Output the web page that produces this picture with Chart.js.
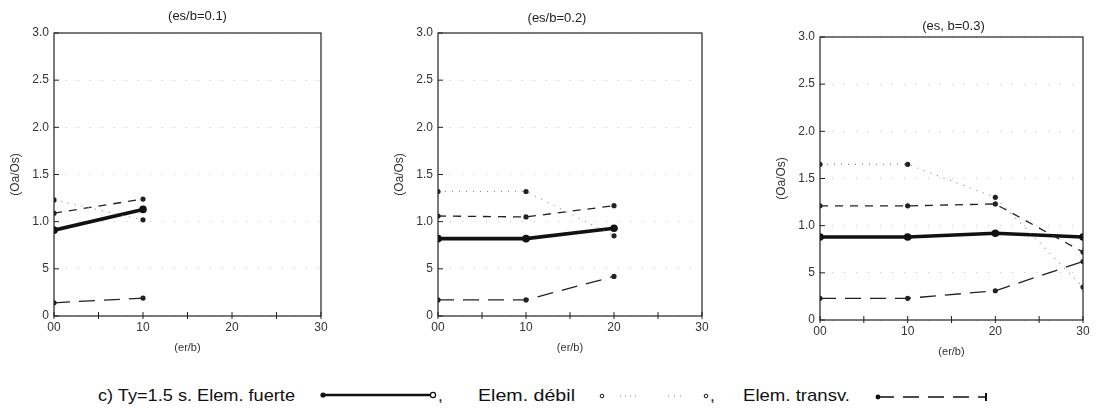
<!DOCTYPE html>
<html>
<head>
<meta charset="utf-8">
<script src="https://cdn.jsdelivr.net/npm/chart.js@4"></script>
<style>
  body { margin: 0; width: 1097px; height: 411px; background: #fff; overflow: hidden; position: relative; font-family: "Liberation Sans", Arial, sans-serif; }
  canvas { position: absolute; }
  #leyenda { position: absolute; left: 0; top: 378px; }
</style>
</head>
<body>
<canvas id="c1" width="341" height="360" style="left:0px;top:0px"></canvas>
<canvas id="c2" width="338" height="360" style="left:384px;top:0px"></canvas>
<canvas id="c3" width="331" height="360" style="left:766px;top:4px"></canvas>

<svg id="leyenda" width="1097" height="33" font-family="Liberation Sans, Arial, sans-serif" font-size="17" fill="#111">
  <text x="98" y="23" textLength="197" lengthAdjust="spacingAndGlyphs">c) Ty=1.5 s. Elem. fuerte</text>
  <circle cx="323" cy="17" r="2.6" fill="#111"/>
  <line x1="323" y1="17" x2="430" y2="17" stroke="#111" stroke-width="2.5"/>
  <circle cx="433" cy="17" r="2.6" fill="#fff" stroke="#111" stroke-width="1.2"/>
  <text x="438" y="23">,</text>

  <text x="478" y="23" textLength="97" lengthAdjust="spacingAndGlyphs">Elem. débil</text>
  <circle cx="602" cy="18" r="1.8" fill="#fff" stroke="#111" stroke-width="1"/>
  <line x1="620" y1="18" x2="639" y2="18" stroke="#777" stroke-width="1" stroke-dasharray="1,4"/>
  <line x1="668" y1="18" x2="681" y2="18" stroke="#777" stroke-width="1" stroke-dasharray="1,5"/>
  <circle cx="706" cy="18" r="1.8" fill="#fff" stroke="#111" stroke-width="1"/>
  <text x="710" y="23">,</text>

  <text x="743" y="23" textLength="107" lengthAdjust="spacingAndGlyphs">Elem. transv.</text>
  <circle cx="878" cy="19" r="2.4" fill="#111"/>
  <line x1="878" y1="19" x2="986" y2="19" stroke="#111" stroke-width="1.3" stroke-dasharray="16,9"/>
  <line x1="986" y1="15" x2="986" y2="23" stroke="#111" stroke-width="2"/>
</svg>

<script>
// eje er/b y sus etiquetas
const erb = [0, 1, 2, 3];
const xTickLabels = ['00', '10', '20', '30'];
const yTickLabels = ['0', '5', '1.0', '1.5', '2.0', '2.5', '3.0'];
const titulos = ['(es/b=0.1)', '(es/b=0.2)', '(es, b=0.3)'];

// es/b = 0.1
const fuerte1 = [0.91, 1.13];
const debil1  = [1.23, 1.02];
const medio1  = [1.09, 1.24];
const transv1 = [0.14, 0.19];

// es/b = 0.2
const fuerte2 = [0.82, 0.82, 0.93];
const debil2  = [1.32, 1.32, 0.85];
const medio2  = [1.06, 1.05, 1.17];
const transv2 = [0.17, 0.17, 0.42];

// es/b = 0.3
const fuerte3 = [0.88, 0.88, 0.92, 0.88];
const debil3  = [1.65, 1.65, 1.30, 0.35];
const medio3  = [1.21, 1.21, 1.23, 0.72];
const transv3 = [0.23, 0.23, 0.31, 0.62];

const FONT = '"Liberation Sans", Arial, sans-serif';
const INK = '#222';

function puntos(vals) {
  return vals.map((v, i) => ({ x: erb[i], y: v }));
}

// marco cerrado, marcas interiores y titulo de cada panel
const marco = {
  id: 'marco',
  afterDraw(chart, args, opts) {
    const { ctx, chartArea: a, scales: { x, y } } = chart;
    ctx.save();
    ctx.strokeStyle = INK;
    ctx.lineWidth = 1.2;
    ctx.strokeRect(a.left, a.top, a.right - a.left, a.bottom - a.top);
    ctx.lineWidth = 1;
    ctx.beginPath();
    x.ticks.forEach(t => {
      const px = x.getPixelForValue(t.value);
      ctx.moveTo(px, a.bottom - 4);
      ctx.lineTo(px, a.bottom + 3);
    });
    y.ticks.forEach(t => {
      const py = y.getPixelForValue(t.value);
      ctx.moveTo(a.left, py);
      ctx.lineTo(a.left + 5, py);
    });
    ctx.stroke();
    ctx.fillStyle = INK;
    ctx.font = '13px ' + FONT;
    ctx.textAlign = 'center';
    ctx.textBaseline = 'middle';
    ctx.fillText(opts.text, (a.left + a.right) / 2 + opts.dx, a.top - opts.dy);
    ctx.restore();
  }
};

function panel(id, fuerte, debil, medio, transv, titulo, dx, dy) {
  new Chart(document.getElementById(id), {
    type: 'line',
    data: {
      datasets: [
        { label: 'Elem. débil', data: puntos(debil), borderColor: '#8a8a8a', borderWidth: 1.1,
          borderDash: [1, 6], pointRadius: 2.6, pointBackgroundColor: INK, pointBorderWidth: 0 },
        { label: 'medio', data: puntos(medio), borderColor: INK, borderWidth: 1.3,
          borderDash: [8, 7], pointRadius: 2.6, pointBackgroundColor: INK, pointBorderWidth: 0 },
        { label: 'Elem. transv.', data: puntos(transv), borderColor: INK, borderWidth: 1.3,
          borderDash: [16, 9], pointRadius: 2.6, pointBackgroundColor: INK, pointBorderWidth: 0 },
        { label: 'Elem. fuerte', data: puntos(fuerte), borderColor: '#111', borderWidth: 3.6,
          pointRadius: 3.8, pointBackgroundColor: '#111', pointBorderWidth: 0 }
      ]
    },
    options: {
      responsive: false,
      animation: false,
      layout: { padding: { top: 33, right: id === 'c3' ? 14 : 20, bottom: 0, left: 0 } },
      plugins: {
        legend: { display: false },
        tooltip: { enabled: false },
        marco: { text: titulo, dx: dx, dy: dy }
      },
      scales: {
        x: {
          type: 'linear', min: 0, max: 3,
          afterFit: s => { s.height = 44; },
          grid: { display: false, drawTicks: false },
          border: { display: false },
          ticks: {
            stepSize: 0.5, autoSkip: false, maxRotation: 0, padding: 4,
            color: '#333', font: { family: FONT, size: 12 },
            callback: v => Number.isInteger(v) ? xTickLabels[v] : ''
          },
          title: { display: true, text: '(er/b)', color: '#333',
                   font: { family: FONT, size: 11 }, padding: { top: 0, bottom: 5 } }
        },
        y: {
          min: 0, max: 3,
          afterFit: s => { s.width = 54; },
          grid: { color: '#c4c4c4', lineWidth: 1, drawTicks: false },
          border: { display: false, dash: [1, 11] },
          ticks: {
            stepSize: 0.5, padding: 5, color: '#333', font: { family: FONT, size: 12 },
            callback: v => yTickLabels[Math.round(v * 2)]
          },
          title: { display: true, text: '(Oa/Os)', color: '#333',
                   font: { family: FONT, size: 12 }, padding: { top: 8, bottom: 0 } }
        }
      }
    },
    plugins: [marco]
  });
}

panel('c1', fuerte1, debil1, medio1, transv1, titulos[0], 10, 17);
panel('c2', fuerte2, debil2, medio2, transv2, titulos[1], -13, 15);
panel('c3', fuerte3, debil3, medio3, transv3, titulos[2], 2, 11);
</script>
</body>
</html>
